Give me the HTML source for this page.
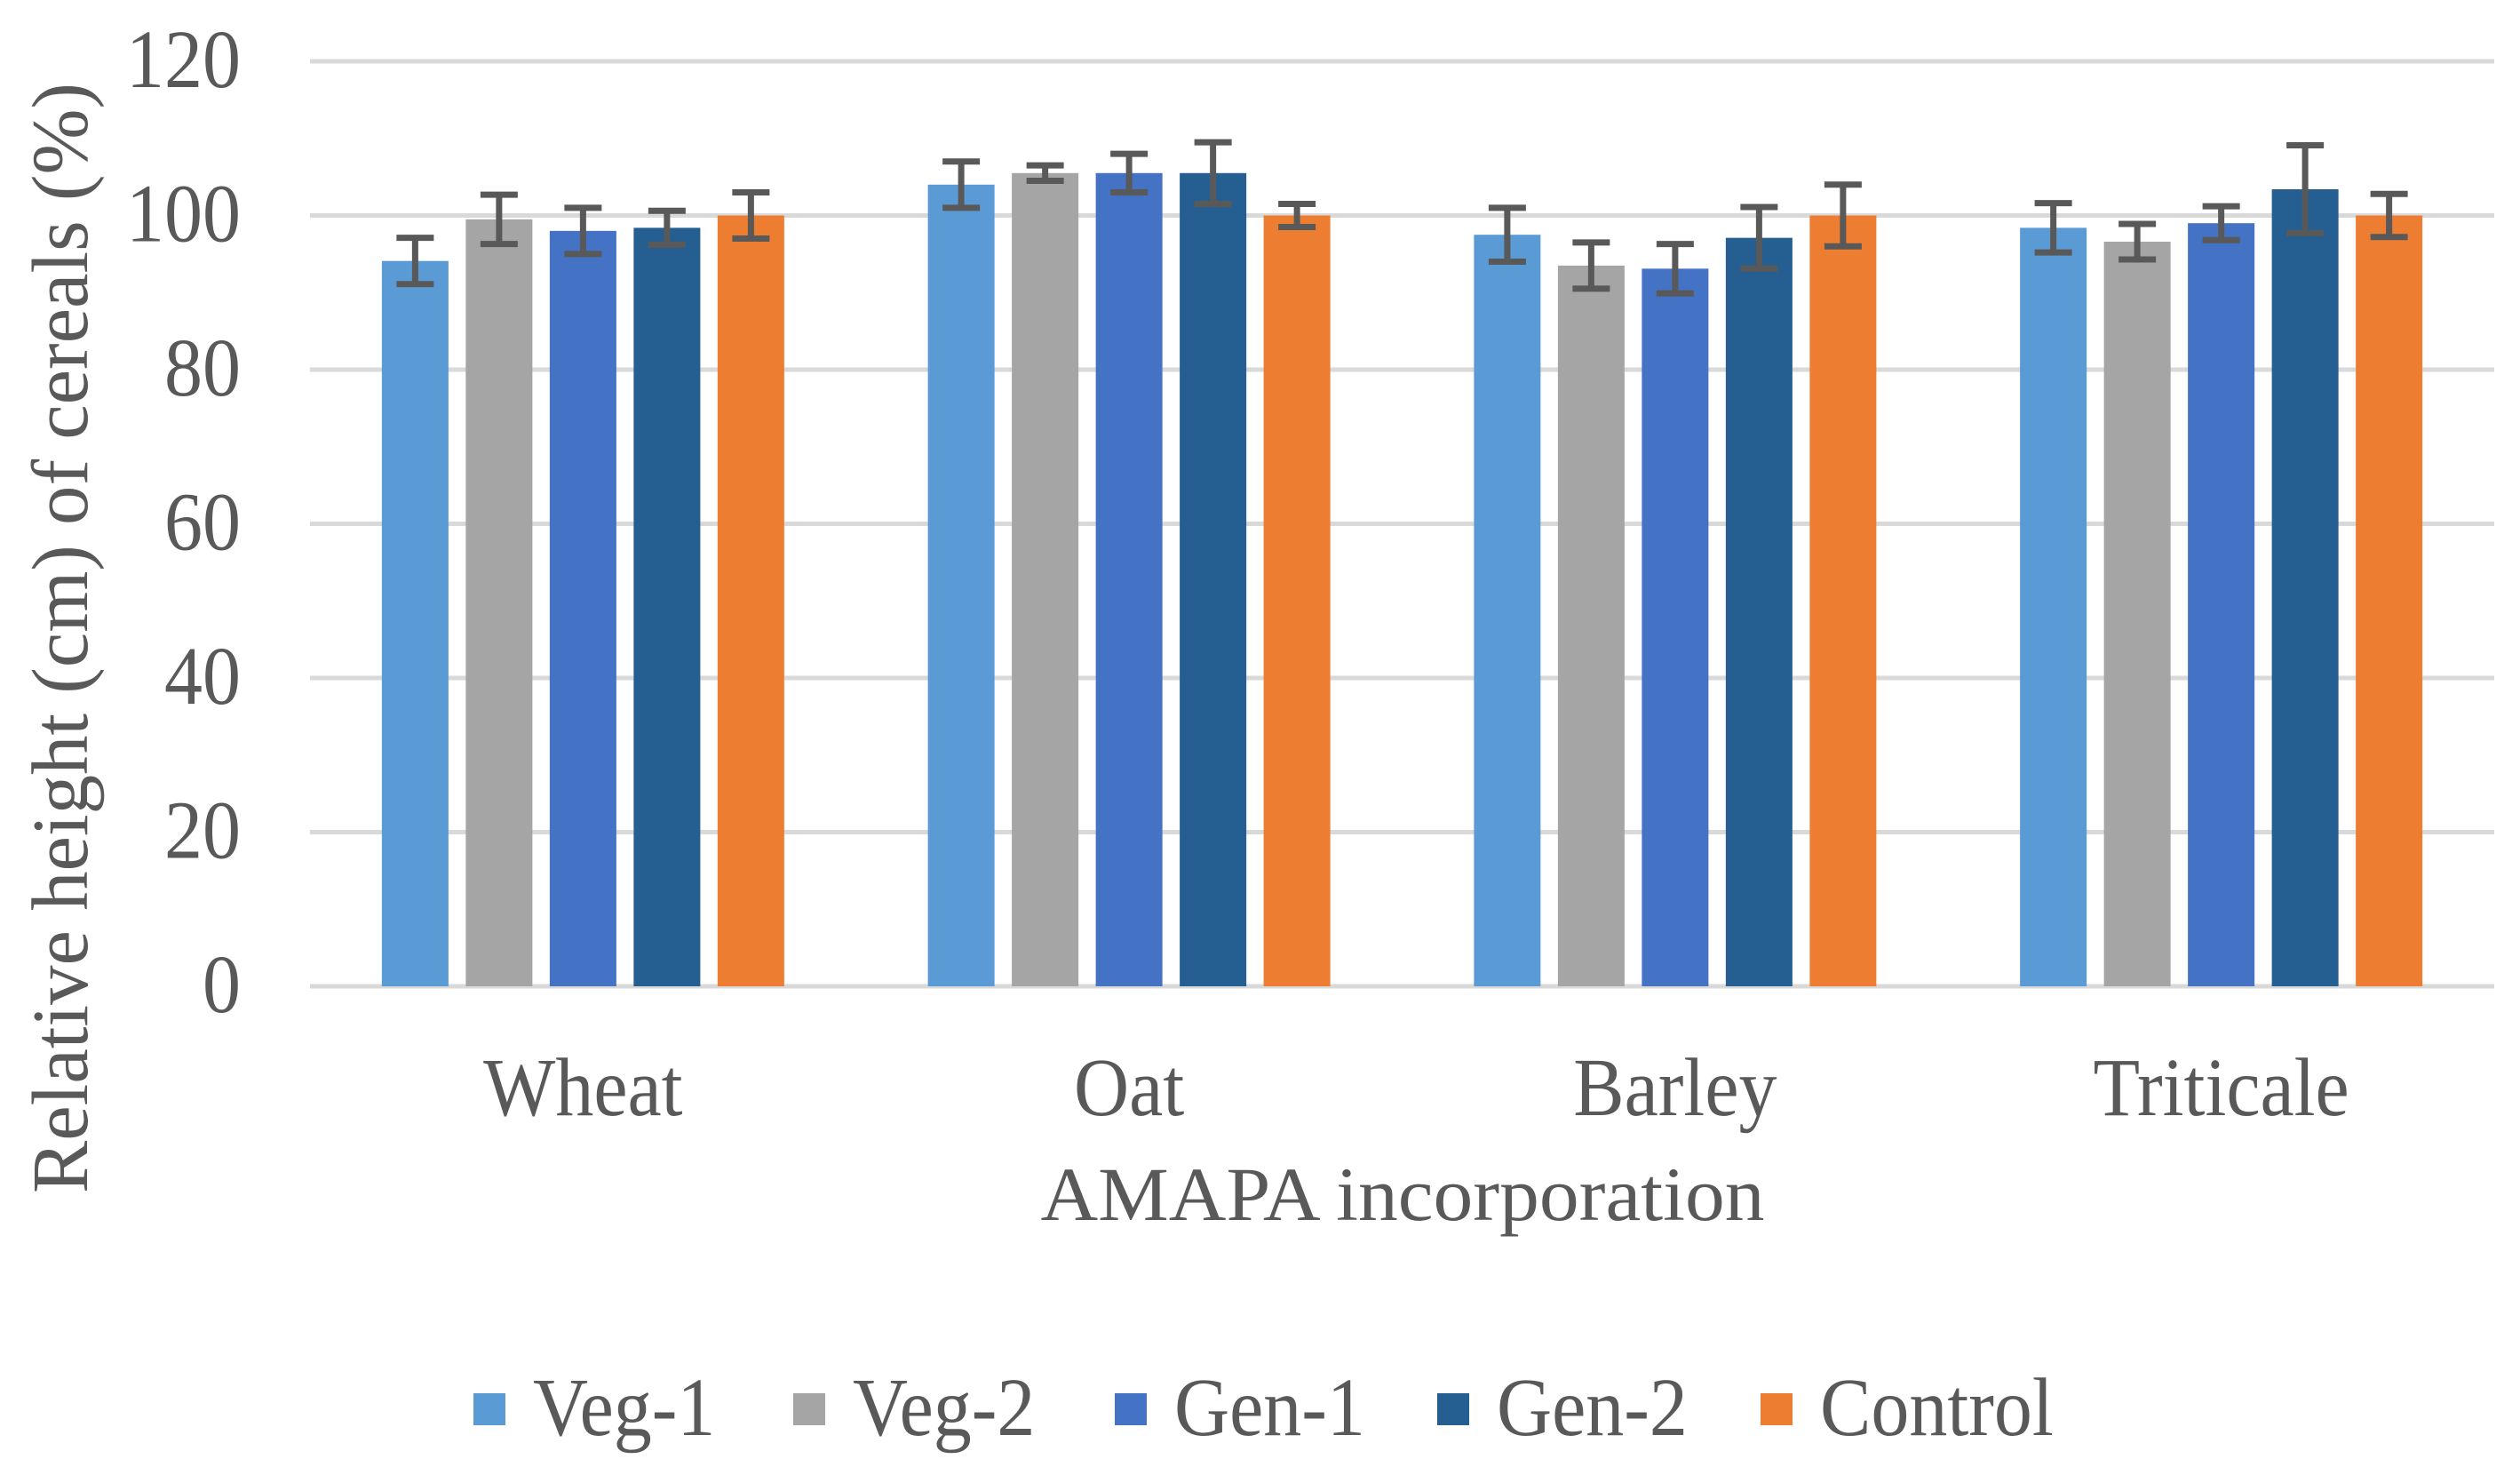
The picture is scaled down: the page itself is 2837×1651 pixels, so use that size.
<!DOCTYPE html>
<html><head><meta charset="utf-8"><style>
html,body{margin:0;padding:0;background:#fff;}
svg text{font-family:"Liberation Serif","DejaVu Serif","Noto Serif CJK SC",serif;}
</style></head><body>
<svg id="chart" width="2837" height="1646" viewBox="0 0 2837 1646" xmlns="http://www.w3.org/2000/svg">
<g id="grid"></g>
<g id="yticks"></g>
<g id="bars"></g>
<g id="xlabels"></g>
<text x="0" y="0" transform="translate(98,718) rotate(-90) scale(1,1.05)" text-anchor="middle" font-size="86" fill="#595959" textLength="1250" lengthAdjust="spacingAndGlyphs">Relative height (cm) of cereals (%)</text>
<text x="1579" y="1373" text-anchor="middle" font-size="86" fill="#595959" textLength="815" lengthAdjust="spacingAndGlyphs">AMAPA  incorporation</text>
<g id="legend"></g>
</svg>
<script>
const categories = ["Wheat","Oat","Barley","Triticale"];
const seriesNames = ["Veg-1","Veg-2","Gen-1","Gen-2","Control"];
const veg1 = [94.1, 104, 97.5, 98.4];
const veg2 = [99.5, 105.5, 93.5, 96.6];
const gen1 = [98, 105.5, 93.1, 99];
const gen2 = [98.4, 105.5, 97.1, 103.4];
const control = [100, 100, 100, 100];
const veg1Err = [3, 3, 3.5, 3.2];
const veg2Err = [3.2, 1, 3, 2.3];
const gen1Err = [3, 2.5, 3.2, 2.2];
const gen2Err = [2.2, 4, 4, 5.7];
const controlErr = [3, 1.5, 4, 2.8];
const yTicks = [0,20,40,60,80,100,120];
const colors = ["#5B9BD5","#A5A5A5","#4472C4","#255E91","#ED7D31"];

const NS="http://www.w3.org/2000/svg";
const plotL=349, plotR=2808, y0=1110, y120=69;
const yScale=v=>y0-(v/120)*(y0-y120);
const catW=(plotR-plotL)/categories.length;
const barW=75, step=94.5;
const xBar=(ci,si)=>plotL+catW*ci+catW/2-(step*4+barW)/2+si*step;
function mk(tag,attrs,parent){const e=document.createElementNS(NS,tag);for(const k in attrs)e.setAttribute(k,attrs[k]);parent.appendChild(e);return e;}

const grid=document.getElementById('grid'), yt=document.getElementById('yticks');
yTicks.forEach(t=>{
  const l=mk('line',{x1:plotL,x2:plotR,y1:yScale(t),y2:yScale(t),stroke:'#D9D9D9','stroke-width':5},grid);
  
  
  const tx=mk('text',{x:0,y:0,transform:'translate(271,'+(yScale(t)+29)+') scale(1,1.08)','text-anchor':'end','font-size':86,fill:'#595959'},yt);
  tx.textContent=t;
  
  
});

const vals=[veg1,veg2,gen1,gen2,control];
const errs=[veg1Err,veg2Err,gen1Err,gen2Err,controlErr];
const bars=document.getElementById('bars');
categories.forEach((c,ci)=>{
  vals.forEach((s,si)=>{
    const x=xBar(ci,si), y=yScale(s[ci]);
    const r=mk('rect',{x:x,y:y,width:barW,height:y0-y,fill:colors[si]},bars);
    
    
    const cx=x+barW/2, e=errs[si][ci];
    const g=mk('g',{stroke:'#595959','stroke-width':7},bars);
    
    
    mk('line',{x1:cx,x2:cx,y1:yScale(s[ci]+e),y2:yScale(s[ci]-e)},g);
    mk('line',{x1:cx-21,x2:cx+21,y1:yScale(s[ci]+e),y2:yScale(s[ci]+e)},g);
    mk('line',{x1:cx-21,x2:cx+21,y1:yScale(s[ci]-e),y2:yScale(s[ci]-e)},g);
  });
  const t=mk('text',{x:0,y:0,transform:'translate('+(plotL+catW*ci+catW/2)+',1255) scale(1,1.08)','text-anchor':'middle','font-size':86,fill:'#595959'},document.getElementById('xlabels'));
  t.textContent=c;
  
  
});

const leg=document.getElementById('legend');
const legX=[533,893,1255,1618,1982];
seriesNames.forEach((n,i)=>{
  const g=mk('g',{},leg);
  
  
  mk('rect',{x:legX[i],y:1568,width:36,height:36,fill:colors[i]},g);
  const t=mk('text',{x:0,y:0,transform:'translate('+(legX[i]+67)+',1615) scale(1,1.08)','font-size':86,fill:'#595959'},g);
  t.textContent=n;
});
</script>
</body></html>
